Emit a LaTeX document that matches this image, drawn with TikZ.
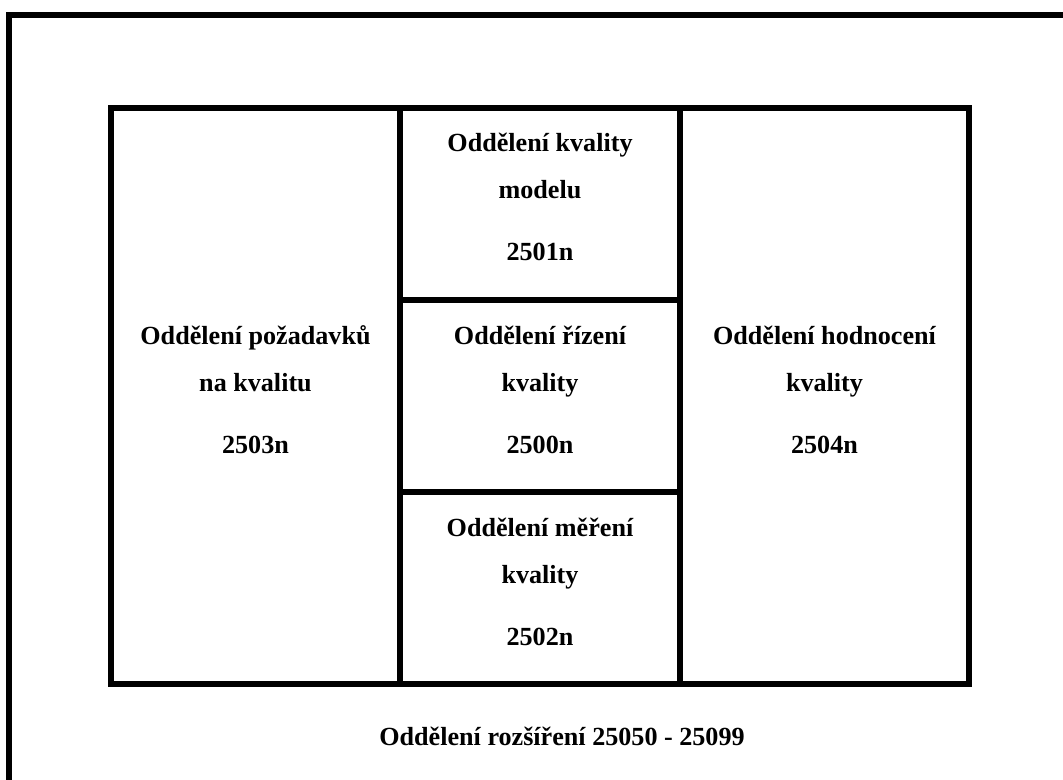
\documentclass[tikz,border=0pt]{standalone}
\usepackage{fontspec}
\setmainfont{Liberation Serif}
\begin{document}
\begin{tikzpicture}[x=0.75pt,y=-0.75pt,
  frame/.style={line width=4.5pt, line join=miter},
  deptlabel/.style={font=\bfseries\fontsize{19.6}{35.25}\selectfont, align=center, inner sep=0pt, anchor=base}]
\useasboundingbox (0,0) rectangle (1063,780);
% outer frame (only top and left sides are visible)
\draw[frame] (9,780) -- (9,15) -- (1063,15);
% department grid
\draw[frame] (111,108) rectangle (969,684);
\draw[frame] (400,108) -- (400,684);
\draw[frame] (680,108) -- (680,684);
\draw[frame] (400,300) -- (680,300);
\draw[frame] (400,492) -- (680,492);
% department names (anchored at the baseline of the number line)
\node[deptlabel] (req)  at (255.5,453) {Oddělení požadavků\\na kvalitu\\[11.25pt]2503n};
\node[deptlabel] (mod)  at (540,261) {Oddělení kvality\\modelu\\[11.25pt]2501n};
\node[deptlabel] (ctl)  at (540,453) {Oddělení řízení\\kvality\\[11.25pt]2500n};
\node[deptlabel] (meas) at (540,645) {Oddělení měření\\kvality\\[11.25pt]2502n};
\node[deptlabel] (eval) at (824.5,453) {Oddělení hodnocení\\kvality\\[11.25pt]2504n};
\node[deptlabel] (ext)  at (562,745) {Oddělení rozšíření 25050 - 25099};
\end{tikzpicture}
\end{document}
